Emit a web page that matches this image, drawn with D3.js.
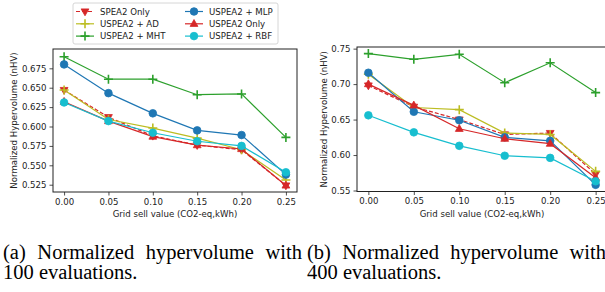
<!DOCTYPE html>
<html>
<head>
<meta charset="utf-8">
<script src="https://cdn.jsdelivr.net/npm/d3@7"></script>
<style>
  body { margin: 0; background: #fff; }
  svg { display: block; }
</style>
</head>
<body>
<svg id="fig" width="605" height="292"></svg>
<script>
// grid sell values on the x axis
const gridSell = [0.0, 0.05, 0.1, 0.15, 0.2, 0.25];
const xTicks = ["0.00", "0.05", "0.10", "0.15", "0.20", "0.25"];

const seriesNames = [
  "SPEA2 Only",
  "USPEA2 + AD",
  "USPEA2 + MHT",
  "USPEA2 + MLP",
  "USPEA2 Only",
  "USPEA2 + RBF",
];

// (a) 100 evaluations
const hv100 = [
  [0.647, 0.612, 0.588, 0.576, 0.570, 0.524],
  [0.647, 0.609, 0.598, 0.585, 0.570, 0.531],
  [0.690, 0.661, 0.661, 0.641, 0.642, 0.586],
  [0.680, 0.643, 0.617, 0.595, 0.589, 0.538],
  [0.632, 0.607, 0.587, 0.576, 0.571, 0.524],
  [0.631, 0.607, 0.592, 0.581, 0.575, 0.541],
];
const yTicks100 = [0.525, 0.55, 0.575, 0.6, 0.625, 0.65, 0.675];

// (b) 400 evaluations
const hv400 = [
  [0.698, 0.668, 0.650, 0.629, 0.631, 0.573],
  [0.714, 0.667, 0.664, 0.631, 0.629, 0.577],
  [0.743, 0.735, 0.742, 0.702, 0.730, 0.688],
  [0.716, 0.661, 0.649, 0.625, 0.620, 0.558],
  [0.700, 0.670, 0.637, 0.623, 0.616, 0.568],
  [0.656, 0.632, 0.613, 0.599, 0.596, 0.563],
];
const yTicks400 = [0.55, 0.6, 0.65, 0.7, 0.75];

const colors = ["#d62728", "#bcbd22", "#2ca02c", "#1f77b4", "#d62728", "#17becf"];
const markers = ["tri-down", "plus", "plus", "circle", "tri-up", "circle"];
const dashes = ["4,2", null, null, null, null, null];

const font = "DejaVu Sans, sans-serif";
const fs = 8.6;

const svg = d3.select("#fig");

function markerPath(kind) {
  if (kind === "circle") return d3.symbol(d3.symbolCircle, 46)();
  if (kind === "plus") return "M-4.5,0H4.5M0,-4.5V4.5";
  if (kind === "tri-up") return "M0,-4.3L3.9,2.6L-3.9,2.6Z";
  return "M0,4.3L3.9,-2.6L-3.9,-2.6Z";
}

function drawPanel(box, data, yDomain, yTicks) {
  const x = d3.scaleLinear().domain([-0.0125, 0.2625]).range([box.left, box.right]);
  const y = d3.scaleLinear().domain(yDomain).range([box.bottom, box.top]);

  const g = svg.append("g");

  // x axis
  const xa = g.append("g")
    .attr("transform", `translate(0,${box.bottom})`)
    .call(d3.axisBottom(x).tickValues(gridSell).tickFormat((d, i) => xTicks[i]).tickSize(3.5).tickPadding(3));
  // y axis
  const ya = g.append("g")
    .attr("transform", `translate(${box.left},0)`)
    .call(d3.axisLeft(y).tickValues(yTicks).tickFormat(d3.format(yTicks.length > 5 ? ".3f" : ".2f")).tickSize(3.5).tickPadding(3));
  [xa, ya].forEach((a) => {
    a.select(".domain").remove();
    a.selectAll("text").attr("font-family", font).attr("font-size", fs).attr("fill", "#222");
    a.selectAll("line").attr("stroke", "#222").attr("stroke-width", 0.8);
  });

  // frame
  g.append("rect")
    .attr("x", box.left).attr("y", box.top)
    .attr("width", box.right - box.left).attr("height", box.bottom - box.top)
    .attr("fill", "none").attr("stroke", "#222").attr("stroke-width", 1);

  const line = d3.line().x((d, i) => x(gridSell[i])).y((d) => y(d));

  data.forEach((vals, s) => {
    const sg = g.append("g");
    sg.append("path")
      .attr("d", line(vals))
      .attr("fill", "none")
      .attr("stroke", colors[s])
      .attr("stroke-width", 1.2)
      .attr("stroke-dasharray", dashes[s]);
    sg.selectAll("path.m")
      .data(vals)
      .join("path")
      .attr("class", "m")
      .attr("transform", (d, i) => `translate(${x(gridSell[i])},${y(d)})`)
      .attr("d", markerPath(markers[s]))
      .attr("fill", colors[s])
      .attr("stroke", colors[s])
      .attr("stroke-width", markers[s] === "plus" ? 1.6 : 0.8);
  });

  // axis labels
  g.append("text")
    .attr("x", (box.left + box.right) / 2 + box.xlabShift)
    .attr("y", 217)
    .attr("text-anchor", "middle")
    .attr("font-family", font).attr("font-size", fs).attr("fill", "#222")
    .text("Grid sell value (CO2-eq,kWh)");
  g.append("text")
    .attr("transform", `translate(${box.ylabX},${(box.top + box.bottom) / 2}) rotate(-90)`)
    .attr("text-anchor", "middle")
    .attr("font-family", font).attr("font-size", fs).attr("fill", "#222")
    .text("Normalized Hypervolume (nHV)");
  return g;
}

drawPanel({ left: 53, right: 297, top: 49, bottom: 192, xlabShift: 0, ylabX: 17 },
  hv100, [0.5156, 0.6999], yTicks100);
drawPanel({ left: 357, right: 607, top: 47, bottom: 191.5, xlabShift: 0, ylabX: 326.5 },
  hv400, [0.5486, 0.7523], yTicks400);

// legend (panel a)
const leg = svg.append("g").attr("transform", "translate(73,3)");
leg.append("rect")
  .attr("width", 205).attr("height", 41).attr("rx", 2)
  .attr("fill", "#fff").attr("fill-opacity", 0.8)
  .attr("stroke", "#ccc").attr("stroke-width", 0.8);
seriesNames.forEach((name, s) => {
  const col = Math.floor(s / 3), row = s % 3;
  const ex = col === 0 ? 3 : 112;
  const ey = 8.5 + row * 12.3;
  const e = leg.append("g").attr("transform", `translate(${ex},${ey})`);
  e.append("line").attr("x1", 0).attr("x2", 18).attr("y1", 0).attr("y2", 0)
    .attr("stroke", colors[s]).attr("stroke-width", 1.2).attr("stroke-dasharray", dashes[s]);
  e.append("path").attr("transform", "translate(9,0)").attr("d", markerPath(markers[s]))
    .attr("fill", colors[s]).attr("stroke", colors[s])
    .attr("stroke-width", markers[s] === "plus" ? 1.6 : 0.8);
  e.append("text").attr("x", 24).attr("y", 3)
    .attr("font-family", font).attr("font-size", fs).attr("fill", "#222")
    .text(name);
});

// captions
const capFont = "'Liberation Serif', 'Times New Roman', serif";
const captions = [
  { x: 3, lines: ["(a) Normalized hypervolume with", "100 evaluations."], justify: 299 },
  { x: 307, lines: ["(b) Normalized hypervolume with", "400 evaluations."], justify: 299 },
];
captions.forEach((c) => {
  c.lines.forEach((ln, i) => {
    const t = svg.append("text")
      .attr("x", c.x).attr("y", 259 + i * 20)
      .attr("font-family", capFont).attr("font-size", 20.5).attr("fill", "#000")
      .text(ln);
    if (i === 0) {
      const w = t.node().getComputedTextLength();
      const gaps = ln.split(" ").length - 1;
      t.attr("word-spacing", Math.max(0, (c.justify - w) / gaps));
    }
  });
});
</script>
</body>
</html>
